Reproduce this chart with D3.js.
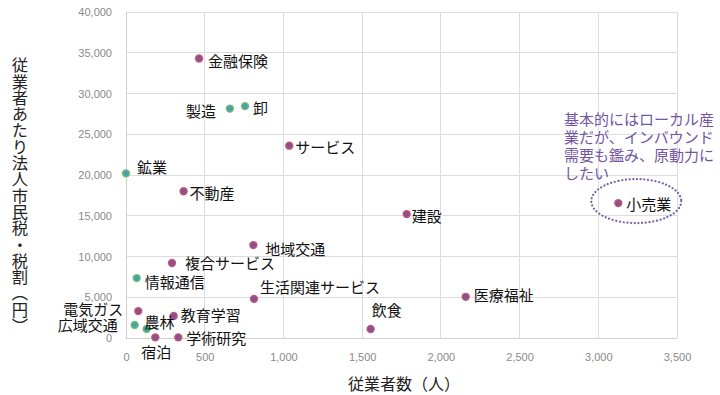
<!DOCTYPE html>
<html><head><meta charset="utf-8">
<script src="https://cdn.jsdelivr.net/npm/d3@7"></script>
<style>
html,body{margin:0;padding:0;background:#fff;}
svg{display:block;}
</style></head>
<body>
<svg id="chart" width="720" height="395"></svg>
<script>
// ---- data ----
const industries = ["金融保険","製造","卸","サービス","鉱業","不動産","地域交通","複合サービス","情報通信","生活関連サービス","電気ガス","教育学習","広域交通","農林","宿泊","学術研究","建設","医療福祉","飲食","小売業"];
const employees  = [464, 660, 756, 1037, 0, 366, 809, 292, 68, 813, 78, 303, 55, 131, 186, 332, 1783, 2158, 1554, 3127];
const taxPerEmp  = [34300, 28150, 28450, 23600, 20200, 18000, 11400, 9200, 7350, 4800, 3300, 2700, 1600, 1100, 80, 80, 15200, 5050, 1100, 16550];
const groupOf    = ["local","base","base","local","base","local","local","local","base","local","local","local","base","base","local","local","local","local","local","local"];
const xTicks = [0,500,1000,1500,2000,2500,3000,3500];
const yTicks = [0,5000,10000,15000,20000,25000,30000,35000,40000];
const xTitle = "従業者数（人）";
const yTitle = "従業者あたり法人市民税・税割（円）";
const noteLines = ["基本的にはローカル産","業だが、インバウンド","需要も鑑み、原動力に","したい"];
const highlighted = "小売業";

// ---- label placement (styling, not data) ----
const labelPos = {
  "金融保険":[9,2,"start"], "製造":[-14,2,"end"], "卸":[8,1,"start"], "サービス":[6,1,"start"],
  "鉱業":[11,-7,"start"], "不動産":[6,1,"start"], "地域交通":[12,3,"start"], "複合サービス":[13,-1,"start"],
  "情報通信":[8,3,"start"], "生活関連サービス":[6,-12,"start"], "電気ガス":[-15,-3,"end"], "教育学習":[7,-1,"start"],
  "広域交通":[-17,0,"end"], "農林":[-2,-8,"start"], "宿泊":[1,14,"middle"], "学術研究":[8,0,"start"],
  "建設":[5,1,"start"], "医療福祉":[8,-2,"start"], "飲食":[16,-20,"middle"], "小売業":[8,0,"start"]
};

const svg = d3.select("#chart");
const x = d3.scaleLinear().domain([0,3500]).range([126,677]);
const y = d3.scaleLinear().domain([0,40000]).range([338,12]);

const defs = svg.append("defs");
const gLocal = defs.append("radialGradient").attr("id","gLocal");
gLocal.append("stop").attr("offset","0%").attr("stop-color","#7458a0");
gLocal.append("stop").attr("offset","55%").attr("stop-color","#984d80");
gLocal.append("stop").attr("offset","100%").attr("stop-color","#d0607c");
const gBase = defs.append("radialGradient").attr("id","gBase");
gBase.append("stop").attr("offset","0%").attr("stop-color","#3a9cc4");
gBase.append("stop").attr("offset","55%").attr("stop-color","#4ea8a0");
gBase.append("stop").attr("offset","100%").attr("stop-color","#86c46c");

// grid
svg.append("g").selectAll("line").data(xTicks).join("line")
  .attr("x1",d=>x(d)).attr("x2",d=>x(d)).attr("y1",y(0)).attr("y2",y(40000))
  .attr("stroke","#dcdcdc").attr("stroke-width",1).attr("shape-rendering","crispEdges");
svg.append("g").selectAll("line").data(yTicks).join("line")
  .attr("x1",x(0)).attr("x2",x(3500)).attr("y1",d=>y(d)).attr("y2",d=>y(d))
  .attr("stroke","#dcdcdc").attr("stroke-width",1).attr("shape-rendering","crispEdges");
// axis lines
svg.append("line").attr("x1",x(0)).attr("x2",x(0)).attr("y1",y(0)).attr("y2",y(40000))
  .attr("stroke","#cfcfcf").attr("shape-rendering","crispEdges");
svg.append("line").attr("x1",x(0)).attr("x2",x(3500)).attr("y1",y(0)).attr("y2",y(0))
  .attr("stroke","#cfcfcf").attr("shape-rendering","crispEdges");

// tick labels via d3 axes
const fmt = d3.format(",");
const xAxis = svg.append("g").attr("transform",`translate(0,${y(0)})`)
  .call(d3.axisBottom(x).tickValues(xTicks).tickFormat(fmt).tickSize(0).tickPadding(15));
const yAxis = svg.append("g").attr("transform",`translate(${x(0)},0)`)
  .call(d3.axisLeft(y).tickValues(yTicks).tickFormat(fmt).tickSize(0).tickPadding(14));
[xAxis,yAxis].forEach(a=>{
  a.select(".domain").remove();
  a.selectAll("text").attr("fill","#8a8a8a").style("font-family","'Liberation Sans', Arial, sans-serif").style("font-size","11px");
});

// axis titles
svg.append("text").attr("x",404).attr("y",383).attr("text-anchor","middle").attr("dominant-baseline","central")
  .style("font-family","'Noto Sans CJK JP', sans-serif").style("font-size","16px").attr("fill","#222").text(xTitle);
svg.append("text").attr("x",20).attr("y",57)
  .style("font-family","'Noto Sans CJK JP', sans-serif").style("font-size","16.3px").attr("fill","#222")
  .style("writing-mode","vertical-rl").attr("text-anchor","start").text(yTitle);

// points
const data = industries.map((n,i)=>({name:n, x:employees[i], y:taxPerEmp[i], g:groupOf[i]}));
svg.append("g").selectAll("circle").data(data).join("circle")
  .attr("cx",d=>x(d.x)).attr("cy",d=>y(d.y)).attr("r",4.2)
  .attr("fill",d=>d.g==="base"?"url(#gBase)":"url(#gLocal)");

// labels
svg.append("g").selectAll("text").data(data).join("text")
  .attr("x",d=>x(d.x)+labelPos[d.name][0]).attr("y",d=>y(d.y)+labelPos[d.name][1])
  .attr("text-anchor",d=>labelPos[d.name][2]).attr("dominant-baseline","central")
  .style("font-family","'Noto Sans CJK JP', sans-serif").style("font-size","15px").attr("fill","#111")
  .text(d=>d.name);

// highlight ellipse
const hd = data.find(d=>d.name===highlighted);
svg.append("ellipse").attr("cx",x(hd.x)+18).attr("cy",y(hd.y)-2).attr("rx",45).attr("ry",22)
  .attr("fill","none").attr("stroke","#7b5ea7").attr("stroke-width",2.2)
  .attr("stroke-dasharray","0.1 3.6").attr("stroke-linecap","round");

// note
svg.append("g").selectAll("text").data(noteLines).join("text")
  .attr("x",564).attr("y",(d,i)=>118+i*18).attr("dominant-baseline","central")
  .style("font-family","'Noto Sans CJK JP', sans-serif").style("font-size","15px").attr("fill","#7356a3")
  .text(d=>d);
</script>
</body></html>
